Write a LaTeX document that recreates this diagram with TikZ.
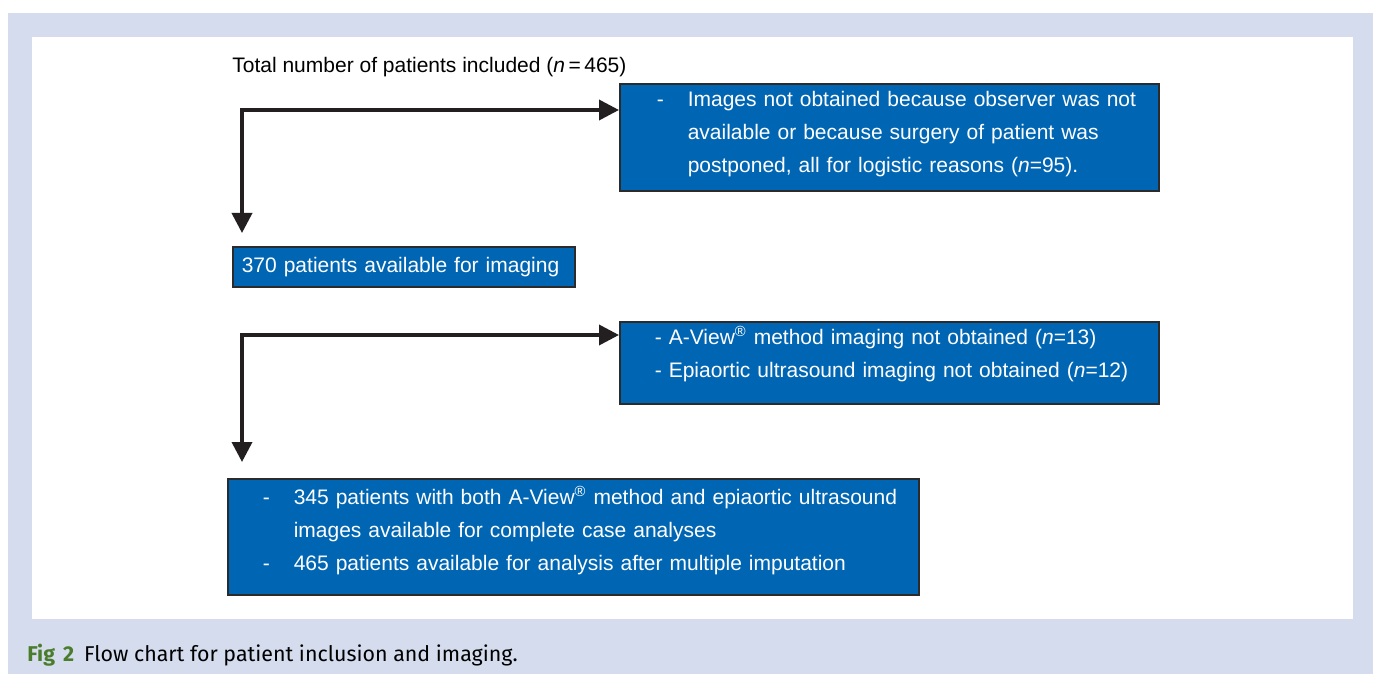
\documentclass[tikz,border=0pt]{standalone}
\usepackage{fontspec}
\setmainfont{Liberation Sans}
\newfontfamily\capfont{Fira Sans}
\usetikzlibrary{arrows.meta}

\definecolor{framebg}{HTML}{D4DCEE}
\definecolor{boxblue}{HTML}{0066B3}
\definecolor{boxline}{HTML}{2B2B2B}
\definecolor{arrowblack}{HTML}{231F20}
\definecolor{figgreen}{HTML}{4A7C2C}

\tikzset{
  box/.style={draw=boxline, line width=0.8pt, fill=boxblue, text=white,
    anchor=north west, align=left, inner sep=0pt,
    font=\fontsize{10.5}{16.5}\selectfont},
  flow/.style={draw=arrowblack, line width=1.8pt,
    >={Triangle[length=10pt,width=10pt]}, <->},
}

\begin{document}
\begin{tikzpicture}[x=0.5pt, y=-0.5pt]
\useasboundingbox (0,0) rectangle (1373,674);

% frame
\fill[framebg] (8,13) rectangle (1373,674);
\fill[white] (32,37) rectangle (1353,619);

\node[anchor=west, inner sep=0pt, font=\fontsize{10.5}{12.6}\selectfont] (total)
    at (232,67) {Total number of patients included (\textit{n}\,=\,465)};

\node[box, text width=269.5pt] (excl1) at (619,83) {%
\begin{tabular}{@{\hspace{18.5pt}}p{15.5pt}@{}l@{}}
- & Images not obtained because observer was not\\
  & available or because surgery of patient was\\
  & postponed, all for logistic reasons (\textit{n}=95).\\[4pt]
\end{tabular}};

\node[box, text width=171pt, minimum height=20pt] (avail)
    at (232,246) {\hspace*{4.5pt}370 patients available for imaging};

\node[box, text width=269.5pt] (excl2) at (619,321) {%
\begin{tabular}{@{\hspace{17.5pt}}l@{}}
- A-View\textsuperscript{®} method imaging not obtained (\textit{n}=13)\\
- Epiaortic ultrasound imaging not obtained (\textit{n}=12)\\[8pt]
\end{tabular}};

\node[box, text width=345.5pt] (final) at (227,478) {%
\begin{tabular}{@{\hspace{17.5pt}}p{15.5pt}@{}l@{}}
-\rule{0pt}{13pt} & 345 patients with both A-View\textsuperscript{®} method and epiaortic ultrasound\\
  & images available for complete case analyses\\
- & 465 patients available for analysis after multiple imputation\\[7pt]
\end{tabular}};

% connectors
\coordinate (turn1) at (242,110);
\coordinate (tip1) at (242,233);
\coordinate (turn2) at (242,335);
\coordinate (tip2) at (242,462);

\draw[flow] (excl1.west |- turn1) -| (tip1);
\draw[flow] (excl2.west |- turn2) -| (tip2);

\node[anchor=base west, inner sep=0pt, font=\capfont\fontsize{10.7}{13}\selectfont] (caption)
    at (27,661) {\textcolor{figgreen}{\bfseries Fig\hspace{4pt}2}\hspace{5pt}Flow chart for patient inclusion and imaging.};
\end{tikzpicture}
\end{document}
